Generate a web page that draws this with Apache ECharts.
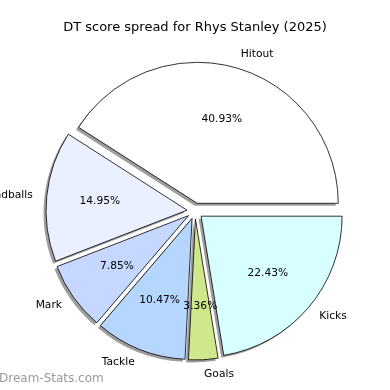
<!DOCTYPE html>
<html><head><meta charset="utf-8">
<script src="https://cdn.jsdelivr.net/npm/echarts@6/dist/echarts.min.js"></script>
<style>html,body{margin:0;padding:0;background:#fff}#c{width:390px;height:390px}</style>
</head><body><div id="c"></div>
<script>
const categories = ['Hitout', 'Handballs', 'Mark', 'Tackle', 'Goals', 'Kicks'];
const values = [40.93, 14.95, 7.85, 10.47, 3.36, 22.43];
const colors = ['#ffffff', '#eaf0ff', '#c6d8ff', '#b5d6ff', '#d0e88c', '#d8ffff'];
const titleText = 'DT score spread for Rhys Stanley (2025)';
const watermark = 'Dream-Stats.com';

const R = 141;
const C = [195, 211];
const font = 'DejaVu Sans';
const chart = echarts.init(document.getElementById('c'));
const sliceData = categories.map((n, i) => ({
  name: n, value: values[i], selected: true,
  itemStyle: { color: colors[i] }
}));
const plainData = categories.map((n, i) => ({ name: n, value: values[i], selected: true }));
const common = { type: 'pie', startAngle: 0, clockwise: false,
  selectedMode: 'multiple', selectedOffset: 8, avoidLabelOverlap: false,
  emphasis: { disabled: true }, silent: true };
chart.setOption({
  animation: false,
  title: { text: titleText, left: 'center', top: 16,
    textStyle: { fontFamily: font, fontSize: 13, fontWeight: 'normal', color: '#000' } },
  graphic: [{ type: 'text', left: -1, top: 373,
    style: { text: watermark, font: '12px "DejaVu Sans"', fill: '#9a9a9a' } }],
  series: [Object.assign({}, common, {
    center: [C[0] - 2.5, C[1] + 2.5], radius: [0, R], z: 1,
    itemStyle: { color: '#9e9e9e', borderWidth: 0 },
    label: { show: false }, labelLine: { show: false },
    data: plainData
  }), Object.assign({}, common, {
    center: C, radius: [0, R], z: 2,
    itemStyle: { borderColor: '#000', borderWidth: 0.8 },
    label: { show: true, position: 'outside', formatter: '{b}', distanceToLabelLine: 0,
      overflow: 'none', fontFamily: font, fontSize: 10.7, color: '#000' },
    labelLine: { show: false, length: 14, length2: 0 },
    data: sliceData
  }), Object.assign({}, common, {
    center: C, radius: [R * 0.2, R], z: 3,
    itemStyle: { color: 'rgba(0,0,0,0)', borderWidth: 0 },
    label: { show: true, position: 'inside', formatter: p => p.value.toFixed(2) + '%',
      fontFamily: font, fontSize: 10.7, color: '#000' },
    labelLine: { show: false },
    data: plainData
  })]
});
</script></body></html>
